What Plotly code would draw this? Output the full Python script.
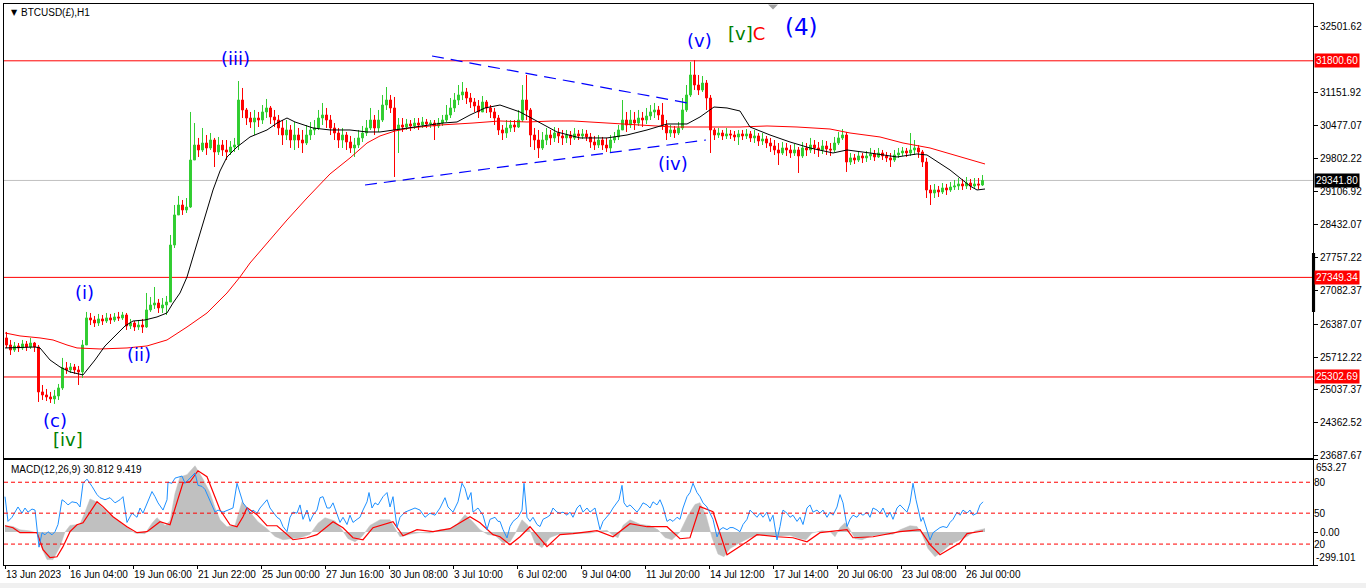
import plotly.graph_objects as go

# ---------------- DATA ----------------
first_open = 26105
close = [25960, 25858, 25940, 25899, 25981, 25919, 26001, 25919,
         24995, 24933, 24892, 24851, 24912, 25077, 25488, 25447,
         25508, 25447, 25406, 25960, 26516, 26474, 26412, 26495,
         26453, 26516, 26474, 26536, 26516, 26577, 26351, 26412,
         26330, 26371, 26330, 26680, 26782, 26823, 26721, 26782,
         26844, 28015, 28632, 28837, 28735, 28796, 29762, 30070,
         29968, 30111, 30009, 30173, 29927, 30070, 29968, 29927,
         30029, 30070, 30995, 30790, 30625, 30543, 30625, 30584,
         30749, 30831, 30646, 30584, 30420, 30276, 30379, 30173,
         30276, 30173, 30111, 30276, 30379, 30420, 30625, 30687,
         30584, 30420, 30317, 30173, 30276, 30132, 30009, 30070,
         30215, 30317, 30420, 30584, 30420, 30584, 30892, 30995,
         30831, 30379, 30481, 30440, 30502, 30461, 30522, 30481,
         30543, 30502, 30522, 30461, 30522, 30584, 30687, 30831,
         30995, 31098, 31160, 31036, 30954, 30872, 30749, 30954,
         30831, 30749, 30625, 30379, 30317, 30420, 30481, 30440,
         30584, 30995, 30790, 30276, 30173, 30009, 30173, 30276,
         30215, 30317, 30256, 30215, 30276, 30215, 30297, 30256,
         30297, 30235, 30132, 30070, 30173, 30070, 30009, 30173,
         30235, 30379, 30584, 30481, 30584, 30522, 30625, 30584,
         30666, 30749, 30790, 30687, 30481, 30317, 30379, 30317,
         30420, 30790, 31098, 31509, 31303, 31201, 31344, 31036,
         30379, 30276, 30317, 30256, 30297, 30276, 30235, 30297,
         30256, 30297, 30215, 30256, 30152, 30194, 30111, 30050,
         29968, 29906, 30009, 29968, 29906, 29968, 29845, 30009,
         29968, 30070, 30009, 29968, 30050, 29988, 29968, 30111,
         30215, 30276, 29721, 29804, 29762, 29845, 29804, 29845,
         29886, 29824, 29906, 29845, 29804, 29762, 29865, 29906,
         29947, 29906, 29968, 30009, 29927, 29721, 29146, 29084,
         29146, 29105, 29187, 29146, 29207, 29228, 29269, 29228,
         29289, 29228, 29269, 29248, 29341.80]
high = [26228, 26063, 26022, 26001, 26063, 26042, 26105, 26022,
        25960, 25138, 25056, 24995, 25036, 25159, 25694, 25611,
        25590, 25570, 25529, 26063, 26639, 26618, 26557, 26598,
        26577, 26618, 26598, 26618, 26639, 26639, 26618, 26495,
        26453, 26474, 26495, 27029, 26947, 27152, 26906, 26926,
        26968, 28221, 28837, 29023, 28940, 28981, 30749, 30522,
        30215, 30420, 30276, 30317, 30215, 30235, 30173, 30173,
        30152, 30215, 31385, 31242, 30831, 30749, 30790, 30749,
        30892, 31016, 30872, 30790, 30687, 30584, 30584, 30481,
        30543, 30420, 30379, 30481, 30543, 30584, 30790, 30934,
        30831, 30687, 30522, 30420, 30420, 30338, 30256, 30215,
        30379, 30461, 30584, 30831, 30687, 30790, 31098, 31262,
        31098, 31057, 30625, 30625, 30605, 30584, 30625, 30625,
        30646, 30605, 30584, 30584, 30625, 30687, 30892, 31036,
        31139, 31303, 31365, 31242, 31139, 31036, 30995, 31077,
        30995, 30892, 30831, 30687, 30481, 30584, 30584, 30584,
        30790, 31303, 31509, 30831, 30420, 30379, 30338, 30420,
        30379, 30440, 30420, 30379, 30379, 30358, 30420, 30379,
        30399, 30379, 30317, 30256, 30276, 30235, 30215, 30276,
        30338, 30481, 30995, 30749, 30790, 30749, 30790, 30749,
        30831, 30892, 30934, 30872, 30934, 30584, 30481, 30461,
        30543, 31036, 31303, 31776, 31817, 31509, 31488, 31406,
        31098, 30420, 30420, 30379, 30420, 30379, 30358, 30379,
        30379, 30399, 30358, 30379, 30317, 30317, 30256, 30215,
        30173, 30111, 30132, 30111, 30070, 30091, 30029, 30132,
        30111, 30215, 30173, 30132, 30173, 30152, 30111, 30235,
        30338, 30399, 30338, 29906, 29886, 29927, 29906, 29947,
        30009, 29968, 30009, 29968, 29927, 29906, 29968, 30009,
        30029, 30009, 30317, 30173, 30070, 29968, 29804, 29248,
        29269, 29228, 29289, 29269, 29310, 29351, 29392, 29372,
        29413, 29372, 29392, 29392, 29454]
low = [25899, 25755, 25817, 25817, 25858, 25837, 25878, 25817,
       24789, 24830, 24809, 24768, 24748, 24830, 25036, 25365,
       25385, 25365, 25138, 25283, 25960, 26371, 26330, 26351,
       26371, 26412, 26392, 26433, 26453, 26474, 26269, 26289,
       26248, 26269, 26207, 26310, 26639, 26700, 26618, 26618,
       26577, 26844, 27954, 28653, 28632, 28673, 28776, 29804,
       29824, 29927, 29865, 29968, 29618, 29865, 29845, 29762,
       29865, 29927, 29968, 30625, 30481, 30420, 30276, 30440,
       30502, 30625, 30502, 30440, 30276, 30070, 30173, 30009,
       29968, 30009, 29906, 30070, 30173, 30276, 30379, 30481,
       30420, 30276, 30173, 30009, 30009, 29968, 29906, 29824,
       30009, 30132, 30256, 30379, 30276, 30338, 30543, 30790,
       30728, 29413, 29906, 30338, 30379, 30358, 30399, 30379,
       30420, 30420, 30420, 30173, 30420, 30461, 30543, 30625,
       30749, 30892, 30995, 30913, 30831, 30749, 30625, 30790,
       30728, 30625, 30481, 30276, 30173, 30215, 30338, 30338,
       30420, 30543, 30584, 30029, 29968, 29803, 29968, 30070,
       30070, 30132, 30111, 30070, 30111, 30070, 30173, 30173,
       30194, 30152, 30009, 29968, 30009, 29968, 29927, 29927,
       30111, 30173, 30379, 30338, 30420, 30379, 30461, 30440,
       30502, 30584, 30625, 30584, 30379, 30173, 30235, 30215,
       30276, 30379, 30749, 31057, 31201, 31098, 31160, 30790,
       29906, 30173, 30215, 30173, 30194, 30194, 30152, 30070,
       30173, 30194, 30132, 30111, 30050, 30070, 30009, 29927,
       29865, 29659, 29865, 29845, 29804, 29845, 29495, 29804,
       29845, 29906, 29886, 29824, 29886, 29865, 29845, 29927,
       30070, 30173, 29516, 29659, 29680, 29721, 29700, 29721,
       29762, 29741, 29804, 29762, 29721, 29618, 29721, 29804,
       29845, 29824, 29845, 29865, 29804, 29618, 28981, 28837,
       28981, 29002, 29063, 29043, 29105, 29146, 29146, 29146,
       29166, 29146, 29187, 29166, 29228]
bars_per_candle = 4

# moving averages: (bar index, price)
ma_fast = [(0, 25899), (30, 25919), (35, 25899), (45, 25652), (55, 25508), (65, 25406), (78, 25344),
           (90, 25652), (100, 25940), (110, 26146), (120, 26351), (128, 26453), (140, 26474), (152, 26536),
           (162, 26618), (168, 26823), (175, 27029), (182, 27358), (188, 27769), (195, 28262), (202, 28735),
           (208, 29146), (215, 29536), (222, 29824), (232, 30029), (245, 30235), (262, 30379), (272, 30522),
           (282, 30625), (290, 30543), (308, 30420), (325, 30379), (345, 30379), (362, 30338), (375, 30338),
           (390, 30379), (405, 30420), (425, 30481), (438, 30522), (452, 30543), (465, 30687), (480, 30831),
           (495, 30892), (515, 30749), (535, 30522), (552, 30338), (575, 30215), (602, 30215), (622, 30276),
           (642, 30379), (662, 30502), (682, 30502), (695, 30646), (709, 30851), (722, 30831), (735, 30769),
           (745, 30440), (765, 30276), (785, 30132), (805, 30009), (828, 29906), (842, 29968), (865, 29906),
           (892, 29824), (912, 29886), (922, 29865), (945, 29557), (965, 29228), (972, 29146), (980, 29166)]
ma_slow = [(0, 26207), (15, 26146), (35, 26105), (48, 26063), (62, 25960), (72, 25899), (95, 25878),
           (122, 25899), (142, 25940), (162, 26063), (182, 26330), (202, 26618), (222, 27029), (235, 27358),
           (245, 27645), (262, 28056), (282, 28529), (302, 28981), (325, 29475), (345, 29804), (362, 30111),
           (375, 30256), (390, 30358), (405, 30420), (435, 30481), (468, 30522), (495, 30564), (522, 30543),
           (548, 30564), (568, 30564), (602, 30522), (635, 30481), (668, 30440), (702, 30440), (735, 30440),
           (762, 30461), (792, 30440), (825, 30399), (845, 30317), (875, 30235), (898, 30111), (925, 30009),
           (958, 29804), (980, 29680)]

# MACD(12,26,9): main (histogram) and signal
macd_main = [(0, 60), (8, 50), (15, 20), (25, 10), (32, -10), (37, -150), (42, -250), (48, -250), (55, -133),
             (60, 0), (65, 60), (75, 70), (80, 180), (85, 300), (90, 280), (98, 220), (105, 157), (115, 90),
             (122, 48), (130, -10), (140, -15), (147, 80), (152, 130), (160, 60), (165, 100), (170, 350),
             (175, 500), (182, 520), (190, 601), (198, 480), (205, 356), (210, 220), (215, 111), (222, 48),
             (230, 60), (237, 275), (245, 180), (253, 93), (262, 30), (270, -40), (278, -70), (287, -60),
             (295, -52), (305, -20), (313, 80), (320, 130), (330, 100), (337, 20), (343, -60), (350, -88),
             (357, -40), (365, 60), (375, 111), (385, 111), (390, 40), (395, -43), (405, -20), (415, -5),
             (425, -10), (435, 20), (445, 30), (453, 80), (460, 157), (467, 100), (475, 20), (483, -24),
             (490, -30), (498, -97), (505, -90), (511, 0), (517, 111), (523, 60), (530, -100), (537, -142),
             (545, -50), (555, -15), (570, -15), (585, -10), (595, 10), (602, 15), (608, -30), (613, -52),
             (618, 60), (625, 111), (635, 70), (645, 57), (653, 20), (660, -50), (667, -70), (675, 0),
             (683, 150), (690, 250), (695, 266), (701, 150), (707, -50), (713, -200), (719, -224), (725, -150),
             (735, -97), (745, -50), (755, -24), (770, -40), (785, -30), (795, -60), (801, -70), (807, -10),
             (817, 12), (825, 5), (830, -43), (835, 40), (840, 84), (845, 20), (850, -60), (857, -70),
             (865, -40), (875, -24), (888, -20), (895, 20), (905, 57), (912, 50), (917, -20), (923, -150),
             (930, -224), (937, -180), (945, -115), (955, -70), (962, -40), (970, 10), (980, 30.812)]
macd_signal = [(0, 57), (8, 39), (15, -6), (32, -6), (38, -161), (45, -233), (52, -224), (58, -133), (65, 3),
               (72, 66), (78, 84), (85, 184), (92, 275), (98, 230), (108, 139), (122, 48), (132, -6), (142, 3),
               (155, 93), (165, 66), (172, 266), (178, 447), (185, 456), (193, 556), (202, 502), (208, 356),
               (215, 202), (225, 66), (232, 48), (238, 139), (242, 220), (252, 157), (262, 57), (272, 57),
               (282, -24), (288, -70), (302, -52), (312, -24), (328, 93), (338, 39), (348, -52), (358, -70),
               (368, 39), (378, 66), (388, 93), (398, -34), (412, 21), (428, 3), (445, 30), (465, 139),
               (475, 84), (488, -24), (495, -43), (505, -115), (515, -43), (525, 48), (542, -133), (555, -24),
               (568, -15), (592, 12), (608, -43), (625, 75), (642, 48), (662, 48), (675, -61), (685, -52),
               (695, 230), (708, 184), (722, -206), (742, -88), (752, -24), (772, -43), (788, -52), (802, -88),
               (815, -6), (842, 21), (848, -52), (868, -43), (895, 3), (915, 21), (925, -115), (935, -206),
               (955, -97), (962, -15), (978, 9.419)]
macd_range = [-299.101, 653.27]

# oscillator drawn in the same window (0-100 scale)
osc = [(0, 66), (3, 42), (7, 46), (10, 51), (13, 56), (17, 50), (20, 55), (23, 51), (27, 54), (30, 53),
       (32, 32), (34, 17), (37, 31), (40, 29), (43, 32), (47, 29), (50, 32), (53, 39), (57, 63), (60, 61),
       (63, 58), (67, 61), (72, 60), (75, 56), (78, 79), (82, 83), (87, 76), (92, 68), (95, 65), (100, 63),
       (105, 65), (110, 60), (115, 63), (118, 66), (122, 41), (127, 50), (132, 46), (135, 55), (138, 50),
       (142, 60), (147, 71), (150, 66), (153, 60), (158, 53), (162, 63), (163, 80), (167, 79), (170, 84),
       (173, 85), (177, 86), (180, 79), (183, 82), (187, 85), (190, 89), (193, 77), (197, 76), (200, 73),
       (203, 66), (207, 58), (210, 51), (213, 53), (218, 51), (223, 53), (228, 55), (232, 79), (235, 70),
       (238, 60), (242, 55), (245, 50), (248, 53), (252, 50), (255, 55), (258, 58), (262, 63), (265, 55),
       (268, 51), (272, 46), (275, 44), (278, 37), (282, 32), (285, 46), (288, 51), (292, 50), (295, 58),
       (298, 44), (302, 53), (305, 42), (308, 48), (312, 53), (315, 65), (318, 66), (322, 55), (325, 55),
       (328, 60), (332, 48), (335, 41), (338, 46), (342, 39), (345, 48), (348, 41), (352, 44), (355, 46),
       (358, 53), (362, 61), (364, 70), (367, 55), (370, 60), (373, 58), (378, 66), (382, 70), (385, 56),
       (388, 66), (392, 36), (395, 46), (400, 51), (405, 53), (410, 55), (415, 53), (420, 46), (425, 50),
       (430, 48), (435, 55), (440, 65), (443, 56), (448, 51), (453, 61), (457, 79), (460, 74), (463, 63),
       (466, 70), (468, 51), (473, 55), (478, 48), (482, 34), (485, 44), (490, 46), (493, 42),
       (495, 42), (498, 34), (502, 26), (505, 37), (508, 42), (513, 46), (517, 53), (519, 79), (522, 46),
       (525, 42), (528, 46), (532, 39), (535, 37), (538, 44), (542, 46), (545, 48), (548, 55), (552, 51),
       (555, 50), (558, 51), (562, 48), (565, 51), (568, 46), (572, 55), (575, 58), (578, 51), (582, 55),
       (585, 51), (590, 55), (595, 34), (598, 42), (602, 46), (605, 50), (608, 55), (612, 61), (614, 63),
       (617, 77), (619, 60), (622, 56), (625, 58), (628, 55), (632, 51), (635, 55), (638, 60), (642, 58),
       (645, 55), (648, 61), (652, 58), (655, 63), (658, 56), (662, 42), (665, 44), (668, 42), (672, 46),
       (675, 44), (678, 55), (682, 66), (685, 70), (688, 79), (692, 70), (695, 66), (698, 60), (702, 56),
       (705, 50), (708, 44), (712, 27), (715, 34), (718, 36), (722, 34), (725, 36), (728, 36), (732, 34),
       (735, 32), (738, 39), (742, 44), (745, 53), (748, 50), (752, 46), (755, 50), (758, 46), (762, 51),
       (765, 42), (768, 48), (772, 24), (775, 37), (778, 53), (782, 50), (785, 46), (788, 48), (792, 42),
       (795, 46), (798, 39), (802, 55), (805, 58), (808, 51), (812, 53), (815, 50), (818, 53), (822, 46),
       (825, 51), (828, 48), (832, 56), (835, 68), (838, 60), (842, 37), (845, 44), (848, 48), (852, 46),
       (855, 50), (858, 48), (862, 51), (865, 46), (868, 55), (872, 53), (875, 50), (878, 55), (882, 46),
       (885, 51), (888, 44), (892, 55), (895, 58), (898, 55), (902, 51), (905, 60), (908, 79), (911, 63),
       (913, 55), (916, 42), (918, 46), (922, 34), (925, 24), (928, 31), (932, 34), (935, 36), (938, 37),
       (942, 36), (945, 41), (948, 44), (952, 51), (955, 48), (958, 53), (962, 50), (965, 53), (968, 48),
       (972, 50), (975, 58), (978, 61)]
osc_levels = [80, 50, 20]
osc_range = [-0.3, 101.6]

# horizontal levels and trend lines
red_levels = [31800.60, 27349.34, 25302.69]
bid_price = 29341.80
trend_upper = [(427, 31899), (683, 30933)]
trend_lower = [(360, 29248), (701, 30173)]

# price axis
price_range = [23644, 32968]
price_ticks = [32501.62, 31151.92, 30477.07, 29802.22, 29106.92, 28432.07, 27757.22,
               27082.37, 26387.07, 25712.22, 25037.37, 24362.52, 23687.67]

# time axis
x_range = [-1, 1308]
tick_step = 64
time_labels = ["13 Jun 2023", "16 Jun 04:00", "19 Jun 06:00", "21 Jun 22:00", "25 Jun 00:00",
               "27 Jun 16:00", "30 Jun 08:00", "3 Jul 10:00", "6 Jul 02:00", "9 Jul 04:00",
               "11 Jul 20:00", "14 Jul 12:00", "17 Jul 14:00", "20 Jul 06:00", "23 Jul 08:00",
               "26 Jul 00:00"]

# Elliott wave labels: text, bar index, price, colour, size
wave_text = ["(iii)", "(v)", "<span style='color:#008000'>[v]</span><span style='color:#FF0000'>C</span>",
             "(4)", "(iv)", "(i)", "(ii)", "(c)", "[iv]"]
wave_x = [230, 694, 741, 796, 668, 79, 134, 50, 63]
wave_y = [31858, 32228, 32372, 32495, 29680, 27029, 25755, 24398, 24008]
wave_color = ["#0000FF", "#0000FF", "#008000", "#0000FF", "#0000FF", "#0000FF", "#0000FF", "#0000FF", "#008000"]
wave_size = [18, 18, 18, 23, 18, 18, 18, 18, 18]

# ---------------- FIGURE ----------------
AX_FONT = dict(family="Liberation Sans", size=10, color="black")
W, H = 1366, 588
ML, MR, MT, MB = 4, 53, 4, 23
main_dom = [0.1913, 1.0]
macd_dom = [0.0, 0.1872]

x_c = [bars_per_candle * k + 1.5 for k in range(len(close))]
opens = [first_open] + close[:-1]

fig = go.Figure()
fig.add_trace(go.Candlestick(
    x=x_c, open=opens, high=high, low=low, close=close,
    increasing=dict(line=dict(color="#32CD32", width=1), fillcolor="#32CD32"),
    decreasing=dict(line=dict(color="#FF0000", width=1), fillcolor="#FF0000"),
    whiskerwidth=0, xaxis="x", yaxis="y", showlegend=False, hoverinfo="skip"))
fig.add_trace(go.Scatter(x=[p[0] for p in ma_slow], y=[p[1] for p in ma_slow], mode="lines",
                         line=dict(color="#FF0000", width=1), xaxis="x", yaxis="y",
                         showlegend=False, hoverinfo="skip"))
fig.add_trace(go.Scatter(x=[p[0] for p in ma_fast], y=[p[1] for p in ma_fast], mode="lines",
                         line=dict(color="#000000", width=1), xaxis="x", yaxis="y",
                         showlegend=False, hoverinfo="skip"))

# MACD window
fig.add_trace(go.Scatter(x=[p[0] for p in macd_main], y=[p[1] for p in macd_main], mode="lines",
                         fill="tozeroy", fillcolor="#C0C0C0", line=dict(color="#C0C0C0", width=0.5),
                         xaxis="x2", yaxis="y2", showlegend=False, hoverinfo="skip"))
fig.add_trace(go.Scatter(x=[p[0] for p in macd_signal], y=[p[1] for p in macd_signal], mode="lines",
                         line=dict(color="#FF0000", width=1.2), xaxis="x2", yaxis="y2",
                         showlegend=False, hoverinfo="skip"))
fig.add_trace(go.Scatter(x=[p[0] for p in osc], y=[p[1] for p in osc], mode="lines",
                         line=dict(color="#1E90FF", width=1), xaxis="x2", yaxis="y3",
                         showlegend=False, hoverinfo="skip"))

tick_idx = [i * tick_step for i in range(len(time_labels))]

fig.update_layout(
    width=W, height=H, margin=dict(l=ML, r=MR, t=MT, b=MB),
    paper_bgcolor="white", plot_bgcolor="white", showlegend=False,
    xaxis=dict(domain=[0, 1], range=x_range, anchor="y", showticklabels=False, ticks="",
               showgrid=False, zeroline=False, showline=True, mirror=True, linecolor="black",
               linewidth=1, rangeslider=dict(visible=False), fixedrange=True),
    yaxis=dict(domain=main_dom, range=price_range, side="right", tickvals=price_ticks,
               ticktext=[f"{v:.2f}" for v in price_ticks], ticks="outside", ticklen=4,
               tickcolor="black", showgrid=False, zeroline=False, showline=True, mirror=True,
               linecolor="black", linewidth=1, tickfont=AX_FONT, fixedrange=True),
    xaxis2=dict(domain=[0, 1], range=x_range, anchor="y2", tickvals=tick_idx, ticks="outside",
                ticklen=3, tickcolor="black", showticklabels=False, showgrid=False, zeroline=False,
                showline=True, mirror=True, linecolor="black", linewidth=1, fixedrange=True),
    yaxis2=dict(domain=macd_dom, range=macd_range, side="right", anchor="x2",
                tickvals=[macd_range[1], 0, macd_range[0]], ticktext=["", "0.00", ""],
                ticks="outside", ticklen=4, tickcolor="black", showgrid=False, zeroline=False,
                showline=True, mirror=True, linecolor="black", linewidth=1, tickfont=AX_FONT,
                fixedrange=True),
    yaxis3=dict(overlaying="y2", anchor="x2", side="right", range=osc_range, tickvals=osc_levels,
                ticktext=[str(v) for v in osc_levels], ticks="", showgrid=False, zeroline=False,
                showline=False, tickfont=AX_FONT, fixedrange=True),
)

shapes = []
for lvl in red_levels:
    shapes.append(dict(type="line", xref="paper", x0=0, x1=1, yref="y", y0=lvl, y1=lvl,
                       line=dict(color="#FF0000", width=1), layer="below"))
shapes.append(dict(type="line", xref="paper", x0=0, x1=1, yref="y", y0=bid_price, y1=bid_price,
                   line=dict(color="#C0C0C0", width=1), layer="below"))
for tl in (trend_upper, trend_lower):
    shapes.append(dict(type="line", xref="x", yref="y", x0=tl[0][0], y0=tl[0][1], x1=tl[1][0], y1=tl[1][1],
                       line=dict(color="#0000FF", width=1.2, dash="12px,7px")))
for lv in osc_levels:
    shapes.append(dict(type="line", xref="paper", x0=0, x1=1, yref="y3", y0=lv, y1=lv,
                       line=dict(color="#FF0000", width=1, dash="4px,3px")))
# scale marker on the price axis
shapes.append(dict(type="rect", xref="paper", x0=0.9992, x1=1.0016, yref="y", y0=26639, y1=27851,
                   fillcolor="black", line=dict(width=0)))
# chart-shift marker
shapes.append(dict(type="path", xref="x", yref="paper", path="M 763,0.999 L 773,0.999 L 768,0.990 Z",
                   fillcolor="#A0A0A0", line=dict(width=0)))
# bottom status strip
shapes.append(dict(type="rect", xref="paper", yref="paper", x0=-0.01, x1=1.05, y0=-0.045, y1=-0.032,
                   fillcolor="#F0F0F0", line=dict(width=0), layer="below"))
fig.update_layout(shapes=shapes)

ann = []
ann.append(dict(text="▼", xref="paper", yref="paper", x=0.0035, y=0.985, xanchor="left", yanchor="middle",
                showarrow=False, font=dict(family="DejaVu Sans", size=8, color="black")))
ann.append(dict(text="BTCUSD(£),H1", xref="paper", yref="paper", x=0.0115, y=0.984, xanchor="left",
                yanchor="middle", showarrow=False, font=AX_FONT))
ann.append(dict(text="MACD(12,26,9) 30.812 9.419", xref="paper", yref="paper", x=0.0035, y=0.171,
                xanchor="left", yanchor="middle", showarrow=False, font=AX_FONT))
for t, xx, yy, c, s in zip(wave_text, wave_x, wave_y, wave_color, wave_size):
    ann.append(dict(text=t, x=xx, y=yy, xref="x", yref="y", showarrow=False, xanchor="center",
                    yanchor="middle", font=dict(family="DejaVu Sans", size=s, color=c)))
for lvl in red_levels:
    ann.append(dict(text=f"{lvl:.2f}", xref="paper", x=1, xanchor="left", xshift=1, yref="y", y=lvl,
                    yanchor="middle", showarrow=False, bgcolor="#FF0000", borderpad=1,
                    font=dict(family="Liberation Sans", size=10, color="white")))
ann.append(dict(text=f"{bid_price:.2f}", xref="paper", x=1, xanchor="left", xshift=1, yref="y", y=bid_price,
                yanchor="middle", showarrow=False, bgcolor="#000000", borderpad=1,
                font=dict(family="Liberation Sans", size=10, color="white")))
ann.append(dict(text=f"{macd_range[1]:.2f}", xref="paper", x=1, xanchor="left", xshift=1, yref="paper",
                y=macd_dom[1], yanchor="top", showarrow=False, font=AX_FONT))
ann.append(dict(text=f"{macd_range[0]:.3f}", xref="paper", x=1, xanchor="left", xshift=1, yref="paper",
                y=0, yanchor="bottom", showarrow=False, font=AX_FONT))
for xi, lab in zip(tick_idx, time_labels):
    ann.append(dict(text=lab, x=xi, xref="x2", xanchor="left", xshift=-1, yref="paper", y=0,
                    yanchor="top", yshift=-2, showarrow=False, font=AX_FONT))
fig.update_layout(annotations=ann)

fig.write_html("out.html", config={"displayModeBar": False},
               post_script="document.body.style.margin='0px';document.body.style.overflow='hidden';")
